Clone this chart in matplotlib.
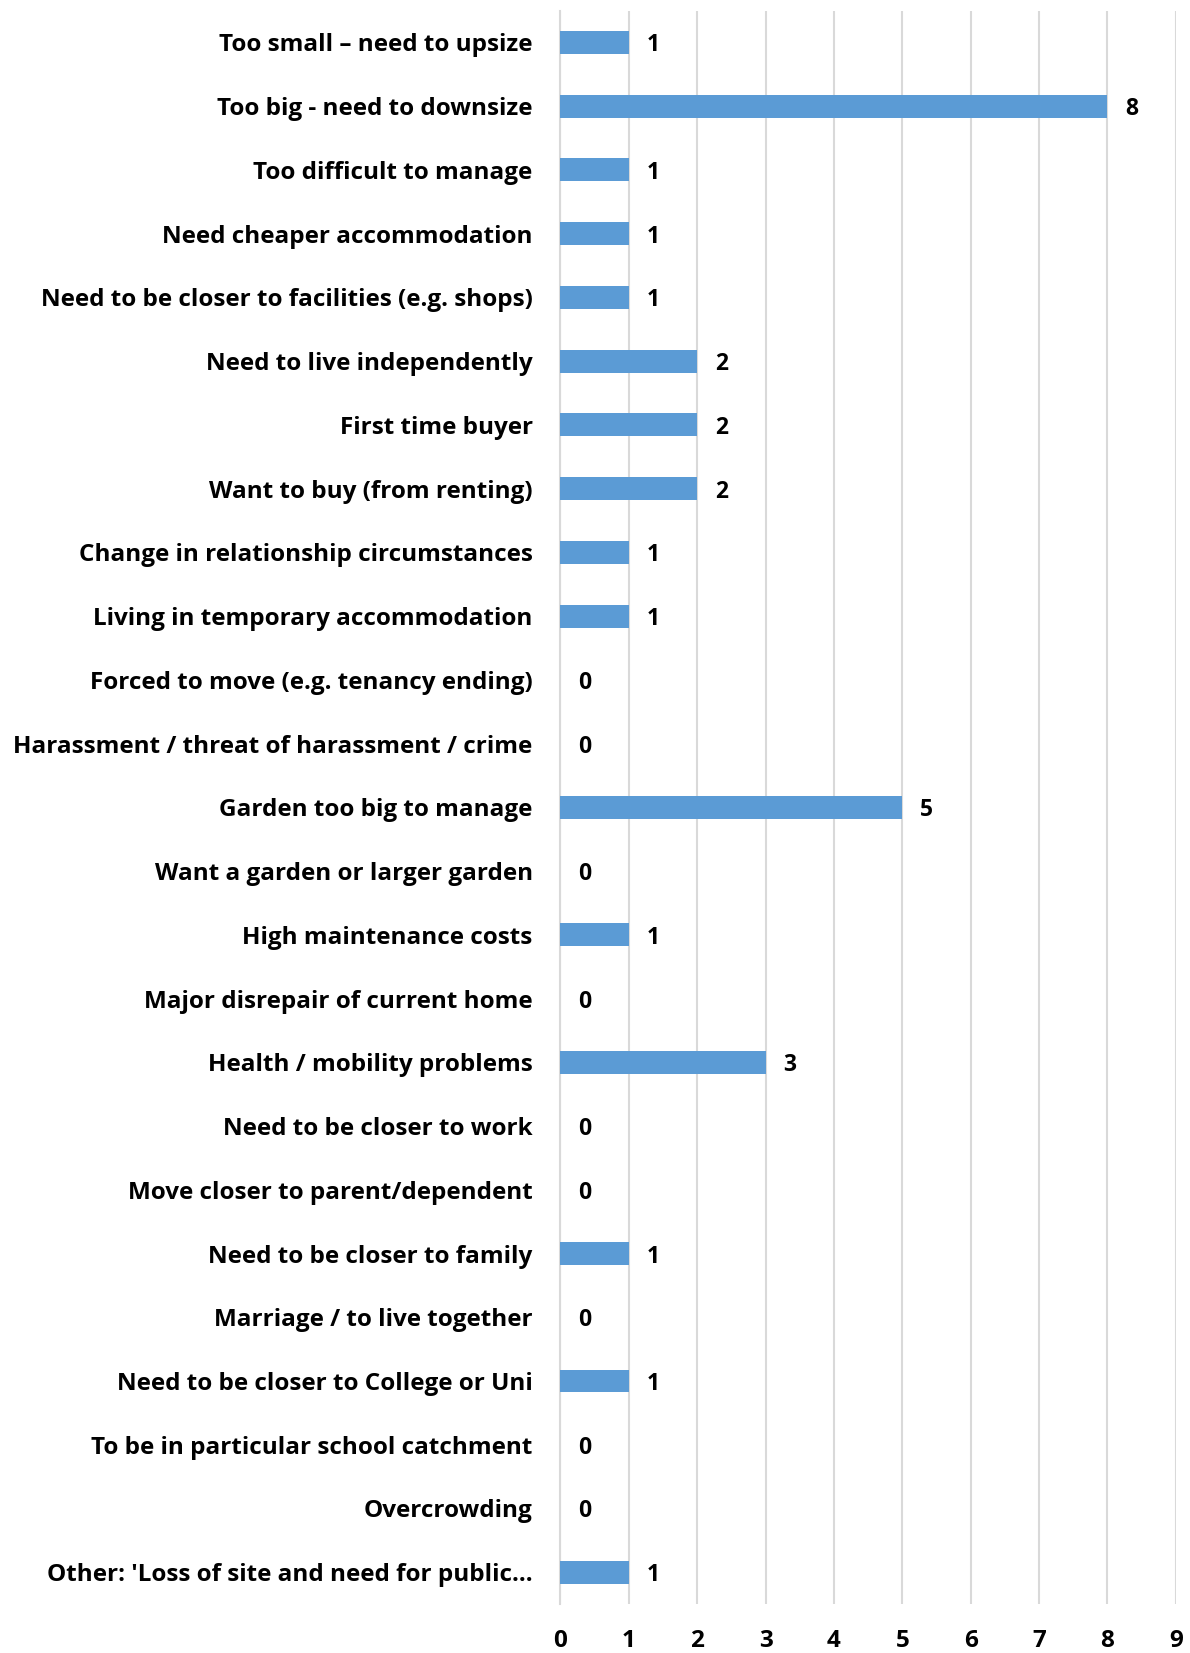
import numpy as np
import matplotlib.pyplot as plt

# reasons for moving, top to bottom as listed
reasons = [
    "Too small \u2013 need to upsize",
    "Too big - need to downsize",
    "Too difficult to manage",
    "Need cheaper accommodation",
    "Need to be closer to facilities (e.g. shops)",
    "Need to live independently",
    "First time buyer",
    "Want to buy (from renting)",
    "Change in relationship circumstances",
    "Living in temporary accommodation",
    "Forced to move (e.g. tenancy ending)",
    "Harassment / threat of harassment / crime",
    "Garden too big to manage",
    "Want a garden or larger garden",
    "High maintenance costs",
    "Major disrepair of current home",
    "Health / mobility problems",
    "Need to be closer to work",
    "Move closer to parent/dependent",
    "Need to be closer to family",
    "Marriage / to live together",
    "Need to be closer to College or Uni",
    "To be in particular school catchment",
    "Overcrowding",
    "Other: 'Loss of site and need for public\u2026",
]
counts = [1, 8, 1, 1, 1, 2, 2, 2, 1, 1, 0, 0, 5, 0, 1, 0, 3, 0, 0, 1, 0, 1, 0, 0, 1]
x_ticks = list(range(0, 10))

plt.rcParams['font.family'] = ['Open Sans', 'DejaVu Sans']
plt.rcParams['font.weight'] = 'bold'

fig = plt.figure(figsize=(11.90, 16.53), dpi=100)
ax = fig.add_axes([0.471, 0.0296, 0.517, 0.9640])

y = np.arange(len(reasons))
ax.barh(y, counts, height=0.36, color='#5B9BD5', zorder=3)

for yi, c in zip(y, counts):
    ax.text(c + 0.26, yi, str(c), va='center_baseline', ha='left', fontsize=16.5,
            fontweight='bold', color='black')

ax.set_xlim(0, 9)
ax.set_ylim(len(reasons) - 0.5, -0.5)
ax.set_xticks(x_ticks)
ax.set_xticklabels([str(t) for t in x_ticks], fontsize=17.5, fontweight='bold')
ax.set_yticks(y)
ax.set_yticklabels(reasons, fontsize=17.5, fontweight='bold')
ax.tick_params(axis='y', length=0, pad=20)
ax.tick_params(axis='x', length=0, pad=18)

ax.grid(axis='x', color='#D9D9D9', linewidth=1.5, zorder=0)
for s in ['top', 'right', 'bottom']:
    ax.spines[s].set_visible(False)
ax.spines['left'].set_color('#D9D9D9')
ax.spines['left'].set_linewidth(1.5)

fig.savefig('out.png', dpi=100)
